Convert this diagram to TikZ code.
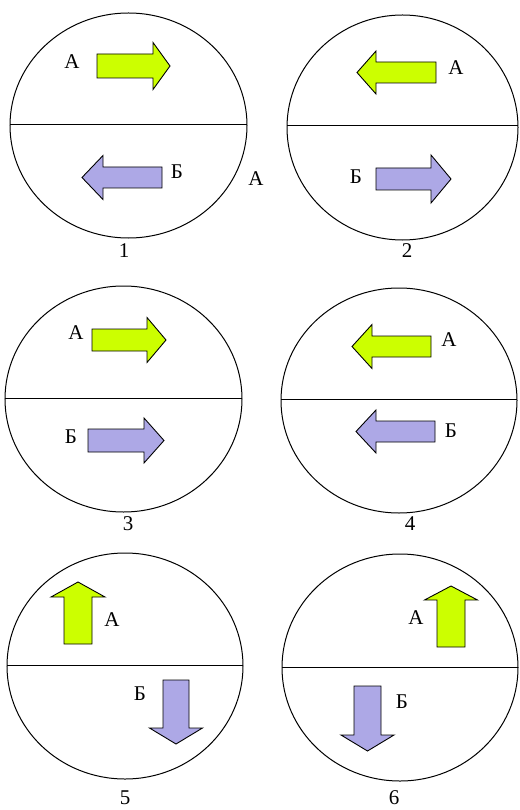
\documentclass[tikz,border=0pt]{standalone}
\usepackage{fontspec}
\setmainfont{Liberation Serif}
\definecolor{agreen}{RGB}{204,255,0}
\definecolor{bviolet}{RGB}{173,168,230}
\tikzset{
  disc/.style={draw=black,line width=1pt},
  divider/.style={draw=black,line width=1pt},
  arrA/.style={draw=black,line width=0.9pt,fill=agreen},
  arrB/.style={draw=black,line width=0.9pt,fill=bviolet},
  lbl/.style={inner sep=0pt,font=\fontsize{21}{21}\selectfont},
}
% horizontal block arrow: style, x0 (tail), x1 (head base), x2 (tip), yc, half shaft, half head
\newcommand{\harr}[7]{\draw[#1] (#2,{#5-#6}) -- (#3,{#5-#6}) -- (#3,{#5-#7}) -- (#4,#5) -- (#3,{#5+#7}) -- (#3,{#5+#6}) -- (#2,{#5+#6}) -- cycle;}
% vertical block arrow: style, y0 (tail), y1 (head base), y2 (tip), xc, half shaft, half head
\newcommand{\varr}[7]{\draw[#1] ({#5-#6},#2) -- ({#5-#6},#3) -- ({#5-#7},#3) -- (#5,#4) -- ({#5+#7},#3) -- ({#5+#6},#3) -- ({#5+#6},#2) -- cycle;}
\begin{document}
\begin{tikzpicture}[x=1pt,y=-1pt]
\useasboundingbox (0,0) rectangle (519,810);
% ---- 1
\draw[disc] (128.5,125.5) ellipse [x radius=118.5, y radius=112.5];
\draw[divider] (10,124.5) -- (247,124.5);
\harr{arrA}{97}{153}{170}{66}{12}{23.5}
\harr{arrB}{162}{103}{82}{177.5}{10.5}{22}
\node[lbl] (a1) at (72,62) {А};
\node[lbl] (b1) at (177,172) {Б};
\node[lbl] (x1) at (256,179) {А};
\node[lbl] (n1) at (124,251) {1};
% ---- 2
\draw[disc] (402.5,127.5) ellipse [x radius=115.5, y radius=112.5];
\draw[divider] (287,126) -- (518,126);
\harr{arrA}{436}{376}{357}{72.5}{10.5}{21.5}
\harr{arrB}{376}{431}{451}{179}{11}{24}
\node[lbl] (a2) at (456,68) {А};
\node[lbl] (b2) at (356,177) {Б};
\node[lbl] (n2) at (407,251) {2};
% ---- 3
\draw[disc] (123.5,399) ellipse [x radius=118.5, y radius=113];
\draw[divider] (5,398) -- (242,398);
\harr{arrA}{92}{147}{166}{340}{11}{22.5}
\harr{arrB}{88}{144}{164}{440.5}{11.5}{22.5}
\node[lbl] (a3) at (76,333) {А};
\node[lbl] (b3) at (71,437) {Б};
\node[lbl] (n3) at (128,524) {3};
% ---- 4
\draw[disc] (399,400.5) ellipse [x radius=118, y radius=112.5];
\draw[divider] (281,399) -- (517,399);
\harr{arrA}{431}{372}{352}{346.5}{10.5}{22}
\harr{arrB}{435}{376}{356}{431.5}{10.5}{21.5}
\node[lbl] (a4) at (449,340) {А};
\node[lbl] (b4) at (451,431) {Б};
\node[lbl] (n4) at (410,524) {4};
% ---- 5
\draw[disc] (125,666) ellipse [x radius=118, y radius=113];
\draw[divider] (7,665) -- (243,665);
\varr{arrA}{644}{597}{582}{78}{14}{27}
\varr{arrB}{680}{728}{744}{176}{13}{26.5}
\node[lbl] (a5) at (112,620) {А};
\node[lbl] (b5) at (140,694) {Б};
\node[lbl] (n5) at (125,798) {5};
% ---- 6
\draw[disc] (400,667.5) ellipse [x radius=118, y radius=113.5];
\draw[divider] (282,667) -- (518,667);
\varr{arrA}{647}{600}{586}{451}{14}{26.5}
\varr{arrB}{686}{735}{751}{367.5}{13.5}{26.5}
\node[lbl] (a6) at (416,618) {А};
\node[lbl] (b6) at (402,702) {Б};
\node[lbl] (n6) at (394,798) {6};
\end{tikzpicture}
\end{document}
